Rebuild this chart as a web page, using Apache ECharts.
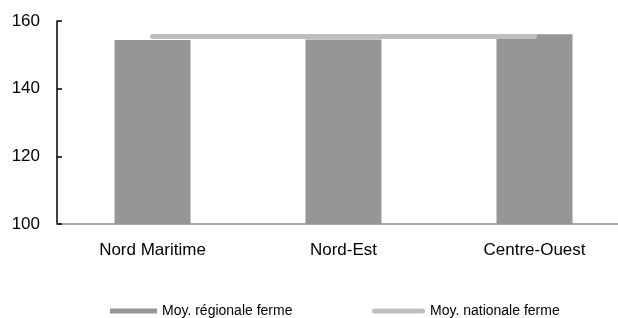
<!DOCTYPE html>
<html>
<head>
<meta charset="utf-8">
<script src="https://cdn.jsdelivr.net/npm/echarts@6/dist/echarts.min.js"></script>
<style>
html,body{margin:0;padding:0;background:#fff;overflow:hidden;width:618px;height:318px;}
#c{width:631px;height:318px;}
</style>
</head>
<body>
<div id="c"></div>
<script>
const categories = ['Nord Maritime', 'Nord-Est', 'Centre-Ouest'];
const regionalValues = [154.4, 154.5, 156.1];
const nationalValues = [155.4, 155.4, 155.4];
const yTicks = [100, 120, 140, 160];
const seriesNames = ['Moy. régionale ferme', 'Moy. nationale ferme'];

const font = '"Liberation Sans", Arial, sans-serif';
const chart = echarts.init(document.getElementById('c'), null, {renderer: 'canvas'});
chart.setOption({
  animation: false,
  grid: {left: 57, top: 21, right: 1, bottom: 94, containLabel: false},
  xAxis: {
    type: 'category',
    data: categories,
    axisLine: {lineStyle: {color: '#8a8a8a', width: 1.5}},
    axisTick: {show: false},
    axisLabel: {color: '#000', fontSize: 17, fontFamily: font, margin: 18}
  },
  yAxis: {
    type: 'value',
    min: yTicks[0],
    max: yTicks[yTicks.length - 1],
    interval: yTicks[1] - yTicks[0],
    axisLine: {show: true, lineStyle: {color: '#000', width: 1.5}},
    axisTick: {show: true, inside: true, length: 5, lineStyle: {color: '#000', width: 1.5}},
    splitLine: {show: false},
    axisLabel: {color: '#000', fontSize: 17, fontFamily: font, margin: 17}
  },
  legend: [
    {
      left: 110, top: 304, padding: 0,
      itemWidth: 47, itemHeight: 5, itemGap: 0,
      textStyle: {fontSize: 14, fontFamily: font, color: '#000'},
      data: [{name: seriesNames[0], icon: 'rect'}]
    },
    {
      left: 372, top: 304, padding: 0,
      itemWidth: 53, itemHeight: 5, itemGap: 0,
      textStyle: {fontSize: 14, fontFamily: font, color: '#000'},
      data: [{name: seriesNames[1], icon: 'path://M2.5,0 L50.5,0 A2.5,2.5 0 0 1 50.5,5 L2.5,5 A2.5,2.5 0 0 1 2.5,0 Z'}]
    }
  ],
  series: [
    {
      name: seriesNames[0],
      type: 'bar',
      data: regionalValues,
      barWidth: 76,
      itemStyle: {color: '#969696'},
      z: 2
    },
    {
      name: seriesNames[1],
      type: 'line',
      data: nationalValues,
      symbol: 'none',
      lineStyle: {color: '#bfbfbf', width: 5, cap: 'round'},
      itemStyle: {color: '#bfbfbf'},
      z: 3
    }
  ]
});
</script>
</body>
</html>
